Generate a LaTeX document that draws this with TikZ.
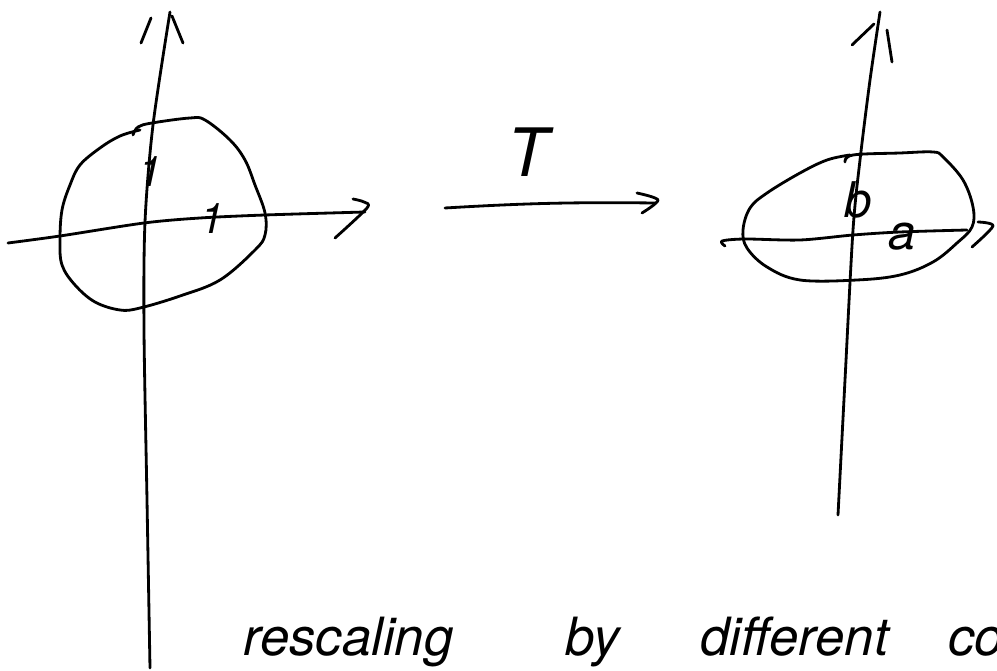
\documentclass[tikz,border=0pt]{standalone}
\usepackage{fontspec}
\setmainfont{TeX Gyre Heros}
\begin{document}
\begin{tikzpicture}[x=0.02cm,y=-0.02cm,
  ink/.style={line width=1.6pt,line cap=round,line join=round},
  lbl/.style={inner sep=0pt,font=\itshape},
  hand/.style={inner sep=0pt,anchor=base west,font=\fontsize{30}{34}\selectfont\itshape}]
\useasboundingbox (0,0) rectangle (997,671);
% ---------- left figure ----------
\draw[ink] plot[smooth] coordinates {(150,668) (147,500) (144,330) (145,222) (153,125) (170,12)};
\draw[ink] (141,43) -- (151,18);
\draw[ink] (172,16) -- (183,43);
\draw[ink] plot[smooth] coordinates {(8,243) (60,236) (144,223) (200,218) (265,215) (365,212)};
\draw[ink] plot[smooth] coordinates {(353,199) (364,202) (367,208) (335,238)};
\draw[ink] plot[smooth,tension=0.6] coordinates {(133,135) (138,127) (152,123) (190,118) (205,120) (230,140) (245,160) (255,185) (265,213) (265,235) (255,250) (220,280) (180,296) (140,308) (120,310) (95,302) (75,285) (62,265) (60,240) (62,210) (70,185) (80,165) (100,148) (120,136) (140,130)};
\node[lbl,font=\fontsize{24}{26}\selectfont\itshape] (one1) at (150,172) {1};
\node[lbl,font=\fontsize{24}{26}\selectfont\itshape] (one2) at (212,219) {1};
% ---------- map arrow ----------
\coordinate (Ts) at (445,208);
\coordinate (Te) at (655,203);
\draw[ink] (Ts) to[bend left=2] (Te);
\draw[ink] plot[smooth] coordinates {(637,193) (658,200) (642,213)};
\node[lbl,font=\fontsize{38}{40}\selectfont\itshape] (T) at (528,152) {T};
% ---------- right figure ----------
\draw[ink] plot[smooth] coordinates {(838,515) (845,380) (853,230) (860,160) (870,80) (880,12)};
\draw[ink] (852,45) -- (874,24);
\draw[ink] (887,30) -- (892,62);
\draw[ink] plot[smooth] coordinates {(725,246) (722,241) (745,239) (800,240) (853,235) (900,232) (967,230)};
\draw[ink] plot[smooth] coordinates {(978,222) (993,226) (972,247)};
\draw[ink] plot[smooth,tension=0.6] coordinates {(845,162) (853,155) (900,153) (933,152) (943,157) (963,180) (973,207) (972,227) (957,243) (933,262) (900,275) (857,280) (800,280) (767,267) (747,248) (743,230) (750,208) (767,193) (800,173) (827,160) (850,155)};
\node[lbl,font=\fontsize{28}{30}\selectfont\itshape] (b) at (858,200) {b};
\node[lbl,font=\fontsize{28}{30}\selectfont\itshape] (a) at (902,237) {a};
% ---------- caption ----------
\begin{scope}
\clip (0,0) rectangle (997,671);
\node[hand] (w1) at (243,655) {rescaling};
\node[hand] (w2) at (565,655) {by};
\node[hand] (w3) at (700,655) {different};
\node[hand] (w4) at (948,655) {con};
\end{scope}
\end{tikzpicture}
\end{document}
